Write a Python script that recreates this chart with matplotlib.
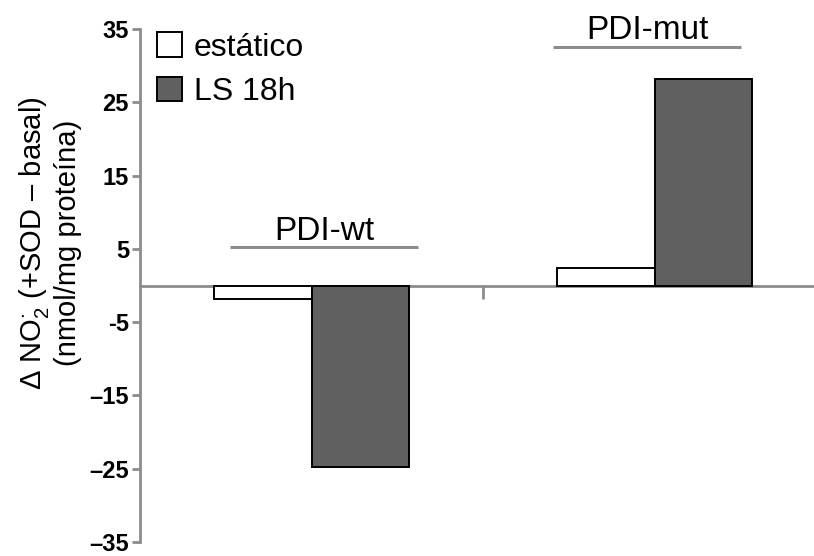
import numpy as np
import matplotlib
matplotlib.use("Agg")
from matplotlib import pyplot as plt
from matplotlib.patches import Patch

plt.rcParams['font.family'] = ['Liberation Sans', 'DejaVu Sans']
plt.rcParams['mathtext.fontset'] = 'custom'
plt.rcParams['mathtext.rm'] = 'Liberation Sans'
plt.rcParams['mathtext.it'] = 'Liberation Sans'
plt.rcParams['mathtext.bf'] = 'Liberation Sans:bold'

groups = ["PDI-wt", "PDI-mut"]
series = ["estático", "LS 18h"]
estatico = [-1.9, 2.4]
ls_18h = [-24.8, 28.2]
yticks = [35, 25, 15, 5, -5, -15, -25, -35]
ytick_labels = ["35", "25", "15", "5", "-5", "\u201315", "\u201325", "\u201335"]

AXIS_GREY = "#8c8c8c"
BAR_W = 0.285

fig = plt.figure(figsize=(8.14, 5.56), dpi=100)
ax = fig.add_axes([140 / 814, 14 / 556, 686 / 814, 513 / 556])

x = np.arange(len(groups))
ax.bar(x - BAR_W / 2, estatico, BAR_W, color="white", edgecolor="black", linewidth=1.4, zorder=3)
ax.bar(x + BAR_W / 2, ls_18h, BAR_W, color="#606060", edgecolor="black", linewidth=1.4, zorder=3)

ax.set_xlim(-0.5, 1.5)
ax.set_ylim(-35, 35)
ax.set_yticks(yticks)
ax.set_yticklabels(ytick_labels, fontsize=17, fontweight="bold")

for s in ["top", "right"]:
    ax.spines[s].set_visible(False)
ax.spines["left"].set_color(AXIS_GREY)
ax.spines["left"].set_linewidth(2)
ax.spines["bottom"].set_position(("data", 0))
ax.spines["bottom"].set_color(AXIS_GREY)
ax.spines["bottom"].set_linewidth(2)
ax.set_xticks([0.5])
ax.set_xticklabels([""])
ax.tick_params(axis="y", direction="out", length=6, width=2, color=AXIS_GREY, pad=2)
ax.tick_params(axis="x", direction="out", length=9, width=2, color=AXIS_GREY)

# group labels with bars over them
spans = [(-0.238, 0.311, 5.2), (0.703, 1.253, 32.6)]
for name, (x0, x1, yy) in zip(groups, spans):
    ax.plot([x0, x1], [yy, yy], color=AXIS_GREY, lw=2.2, solid_capstyle="butt", clip_on=False)
    ax.text((x0 + x1) / 2, yy + 1.0, name, ha="center", va="baseline", fontsize=24)

ax.set_ylabel("$\\Delta$ NO$_2^{\\bf{\\cdot}}$ (+SOD \u2013 basal)\n(nmol/mg proteína)",
              fontsize=21, linespacing=1.1)
ax.yaxis.set_label_coords(-0.085, 0.583)

handles = [Patch(facecolor="white", edgecolor="black", linewidth=1.4),
           Patch(facecolor="#606060", edgecolor="black", linewidth=1.4)]
ax.legend(handles, series, loc="upper left", bbox_to_anchor=(0.02, 1.0), frameon=False,
          fontsize=23, handlelength=0.8, handleheight=0.8, handletextpad=0.35,
          labelspacing=0.45, borderaxespad=0, borderpad=0.1)

fig.savefig("out.png", dpi=100)
